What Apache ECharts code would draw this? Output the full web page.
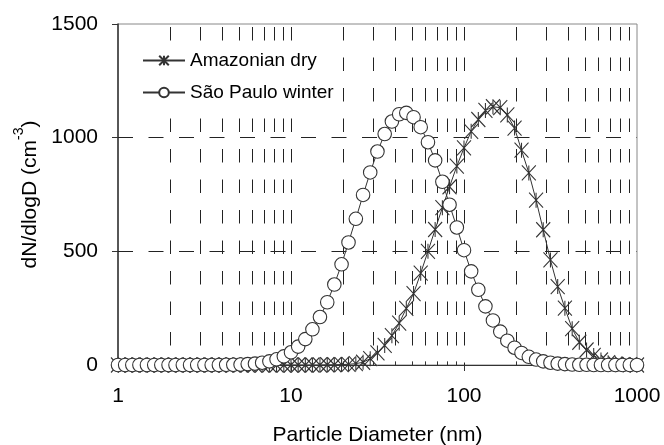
<!DOCTYPE html>
<html>
<head>
<meta charset="utf-8">
<title>Particle size distribution</title>
<script src="https://cdn.jsdelivr.net/npm/echarts@6/dist/echarts.min.js"></script>
<style>
  html, body { margin: 0; padding: 0; background: #fff; }
  #chart { width: 664px; height: 445px; }
</style>
</head>
<body>
<div id="chart"></div>
<script>
// particle diameters (nm), 24 channels per decade
var diameters = [1.00, 1.10, 1.21, 1.33, 1.47, 1.62, 1.78, 1.96, 2.15, 2.37, 2.61, 2.87,
  3.16, 3.48, 3.83, 4.22, 4.64, 5.11, 5.62, 6.19, 6.81, 7.50, 8.25, 9.09,
  10.0, 11.0, 12.1, 13.3, 14.7, 16.2, 17.8, 19.6, 21.5, 23.7, 26.1, 28.7,
  31.6, 34.8, 38.3, 42.2, 46.4, 51.1, 56.2, 61.9, 68.1, 75.0, 82.5, 90.9,
  100, 110, 121, 133, 147, 162, 178, 196, 215, 237, 261, 287,
  316, 348, 383, 422, 464, 511, 562, 619, 681, 750, 825, 909, 1000];

// dN/dlogD (cm-3)
var amazonianDry = [0, 0, 0, 0, 0, 0, 0, 0, 0, 0, 0, 0,
  0, 0, 0, 0, 0, 0, 0, 0, 0, 0, 0, 0,
  0, 0, 0, 0, 0, 1, 1, 2, 3, 6, 12, 28,
  53, 86, 129, 184, 249, 314, 404, 500, 596, 692, 784, 875,
  955, 1028, 1080, 1120, 1136, 1132, 1100, 1042, 945, 845, 725, 595,
  462, 345, 250, 160, 100, 66, 42, 22, 10, 5, 2, 1, 0];

var saoPauloWinter = [0, 0, 0, 0, 0, 0, 0, 0, 0, 0, 0, 0,
  0, 0, 0, 1, 1, 2, 4, 6, 10, 16, 25, 38,
  56, 81, 114, 157, 211, 276, 354, 443, 539, 643, 748, 847,
  939, 1016, 1071, 1103, 1109, 1090, 1046, 980, 900, 806, 705, 605,
  505, 412, 331, 258, 196, 147, 107, 76, 53, 36, 24, 16,
  10, 6, 4, 2, 1, 1, 0, 0, 0, 0, 0, 0, 0];

var yGridValues = [500, 1000];
var xGridValues = [2, 3, 4, 5, 6, 7, 8, 9, 10,
  20, 30, 40, 50, 60, 70, 80, 90, 100,
  200, 300, 400, 500, 600, 700, 800, 900];
var xMinorTicks = [2, 3, 4, 5, 6, 7, 8, 9, 20, 30, 40, 50, 60, 70, 80, 90,
  200, 300, 400, 500, 600, 700, 800, 900];

var FONT = 'Liberation Sans, Arial, sans-serif';
var INK = '#333';
var starSymbol = 'path://M0 0L12 13M12 0L0 13M6 0L6 13';

var chart = echarts.init(document.getElementById('chart'));

function toPairs(values) {
  return diameters.map(function (d, i) { return [d, values[i]]; });
}

var option = {
  animation: false,
  textStyle: { fontFamily: FONT },
  grid: {
    left: 118, right: 27, top: 24, bottom: 80,
    show: true, borderColor: '#888', borderWidth: 1,
    outerBoundsMode: 'none'
  },
  legend: {
    orient: 'vertical',
    left: 136, top: 45,
    padding: [6, 6, 6, 6],
    itemGap: 13,
    itemWidth: 42, itemHeight: 12,
    backgroundColor: '#fff',
    zlevel: 1, z: 20,
    textStyle: { fontSize: 19, color: '#000', fontFamily: FONT },
    data: ['Amazonian dry', 'São Paulo winter']
  },
  xAxis: {
    type: 'log', logBase: 10, min: 1, max: 1000,
    name: 'Particle Diameter (nm)',
    nameLocation: 'middle', nameGap: 60,
    nameTextStyle: { fontSize: 21, color: '#000', fontFamily: FONT },
    axisLine: { show: true, onZero: false, lineStyle: { color: INK, width: 1 } },
    axisTick: { show: true, length: 6, lineStyle: { color: INK } },
    axisLabel: {
      fontSize: 21, color: '#000', margin: 21, fontFamily: FONT,
      formatter: function (v) { return String(Math.round(v)); }
    },
    splitLine: { show: false },
    minorTick: { show: false }
  },
  yAxis: {
    type: 'value', min: 0, max: 1500, interval: 500,
    name: '{a|dN/dlogD (cm}{b|-3}{a|)}',
    nameLocation: 'middle', nameGap: 77, nameRotate: 90,
    nameTextStyle: {
      rich: {
        a: { fontSize: 21, color: '#000', fontFamily: FONT, lineHeight: 28, verticalAlign: 'bottom' },
        b: { fontSize: 14, color: '#000', fontFamily: FONT, lineHeight: 28, verticalAlign: 'top' }
      }
    },
    axisLine: { show: true, lineStyle: { color: INK, width: 1.5 } },
    axisTick: { show: true, length: 6, lineStyle: { color: INK } },
    axisLabel: {
      fontSize: 21, color: '#000', margin: 20, fontFamily: FONT,
      formatter: function (v) { return String(v); }
    },
    splitLine: { show: false }
  },
  series: [
    {
      // vertical dashed grid lines at every log tick
      type: 'line', data: [], z: 1, silent: true,
      markLine: {
        silent: true, z: 1, symbol: ['none', 'none'], label: { show: false },
        emphasis: { disabled: true },
        lineStyle: { color: '#222', width: 1, type: [13.5, 17], dashOffset: 27.5 },
        data: xGridValues.map(function (v) { return [{ coord: [v, 1500] }, { coord: [v, 0] }]; })
      }
    },
    {
      // horizontal dashed grid lines
      type: 'line', data: [], z: 1, silent: true,
      markLine: {
        silent: true, z: 1, symbol: ['none', 'none'], label: { show: false },
        emphasis: { disabled: true },
        lineStyle: { color: '#222', width: 1, type: [15, 15.5] },
        data: yGridValues.map(function (v) { return { yAxis: v }; })
      }
    },
    {
      // minor ticks on the x axis
      type: 'line', data: [], z: 1, silent: true,
      markLine: {
        silent: true, z: 1, symbol: ['none', 'none'], label: { show: false },
        emphasis: { disabled: true },
        lineStyle: { color: INK, width: 1, type: 'solid' },
        data: xMinorTicks.map(function (v) { return [{ coord: [v, 0] }, { coord: [v, 16] }]; })
      }
    },
    {
      name: 'Amazonian dry', type: 'line', z: 3, clip: false,
      data: toPairs(amazonianDry),
      symbol: starSymbol, symbolSize: [14, 15],
      lineStyle: { color: INK, width: 1 },
      itemStyle: { color: INK, borderColor: INK, borderWidth: 1.1 }
    },
    {
      name: 'São Paulo winter', type: 'line', z: 4, clip: false,
      data: toPairs(saoPauloWinter),
      symbol: 'circle', symbolSize: 13.5,
      lineStyle: { color: INK, width: 1 },
      itemStyle: { color: '#fff', borderColor: INK, borderWidth: 1.1 }
    }
  ]
};

chart.setOption(option);
</script>
</body>
</html>
